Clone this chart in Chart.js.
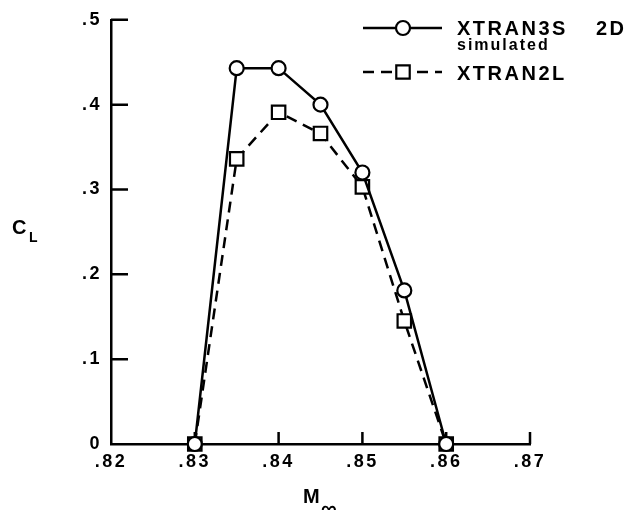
<!DOCTYPE html>
<html>
<head>
<meta charset="utf-8">
<script src="https://cdn.jsdelivr.net/npm/chart.js@4/dist/chart.umd.min.js"></script>
<style>
  html, body { margin: 0; padding: 0; background: #ffffff; }
  #wrap { width: 632px; height: 510px; }
</style>
</head>
<body>
<div id="wrap"><canvas id="c" width="632" height="510"></canvas></div>
<script>
// Free-stream Mach number and lift coefficient for the two codes
const machNumbers = [0.830, 0.835, 0.840, 0.845, 0.850, 0.855, 0.860];
const clXtran3s2d = [0, 0.443, 0.443, 0.400, 0.320, 0.181, 0];
const clXtran2l   = [0, 0.336, 0.391, 0.366, 0.303, 0.145, 0];

// Axis ticks and their printed labels
const xTickValues = [0.82, 0.83, 0.84, 0.85, 0.86, 0.87];
const xTickLabels = ['.82', '.83', '.84', '.85', '.86', '.87'];
const yTickValues = [0, 0.1, 0.2, 0.3, 0.4, 0.5];
const yTickLabels = ['0', '.1', '.2', '.3', '.4', '.5'];

const seriesNames = ['XTRAN3S 2D', 'simulated', 'XTRAN2L'];

const INK = '#000000';
const FONT = "'Liberation Sans', Arial, Helvetica, sans-serif";

function labelFor(values, labels, v) {
  const i = values.findIndex(t => Math.abs(t - v) < 1e-9);
  return i >= 0 ? labels[i] : '';
}

// Short tick marks drawn inward from both axes
const innerTicks = {
  id: 'innerTicks',
  beforeDatasetsDraw(chart) {
    const { ctx, chartArea, scales } = chart;
    ctx.save();
    ctx.strokeStyle = INK;
    ctx.lineWidth = 2.5;
    ctx.beginPath();
    yTickValues.slice(1).forEach(v => {
      const y = scales.y.getPixelForValue(v);
      ctx.moveTo(chartArea.left, y);
      ctx.lineTo(chartArea.left + 17, y);
    });
    xTickValues.slice(1).forEach(v => {
      const x = scales.x.getPixelForValue(v);
      ctx.moveTo(x, chartArea.bottom);
      ctx.lineTo(x, chartArea.bottom - 12);
    });
    ctx.stroke();
    ctx.restore();
  }
};

// Wider letter spacing for the typewriter-like lettering
const tracking = {
  id: 'tracking',
  beforeDraw(chart) { chart.ctx.letterSpacing = '2.5px'; },
  afterDraw(chart) { chart.ctx.letterSpacing = '0px'; }
};

// Axis titles with subscripts and the legend box in the upper right
const annotations = {
  id: 'annotations',
  afterDraw(chart) {
    const ctx = chart.ctx;
    const ds = chart.data.datasets;
    ctx.save();
    ctx.fillStyle = INK;
    ctx.textAlign = 'left';
    ctx.textBaseline = 'alphabetic';

    // y-axis title: C with subscript L
    ctx.letterSpacing = '0px';
    ctx.font = `bold 20px ${FONT}`;
    ctx.fillText('C', 12, 234);
    ctx.font = `bold 14px ${FONT}`;
    ctx.fillText('L', 29, 242);

    // x-axis title: M with subscript infinity
    ctx.font = `bold 20px ${FONT}`;
    ctx.fillText('M', 303, 503);
    ctx.font = `bold 22px ${FONT}`;
    ctx.fillText('\u221E', 321, 516);

    // legend entries
    const x0 = 363, x1 = 442, xm = 403;
    const rows = [
      { ds: ds[0], y: 28 },
      { ds: ds[1], y: 72 }
    ];
    rows.forEach(r => {
      ctx.save();
      ctx.strokeStyle = INK;
      ctx.lineWidth = r.ds.borderWidth;
      ctx.setLineDash(r.ds.borderDash || []);
      ctx.beginPath();
      ctx.moveTo(x0, r.y);
      ctx.lineTo(x1, r.y);
      ctx.stroke();
      ctx.restore();
      ctx.save();
      ctx.lineWidth = r.ds.pointBorderWidth;
      ctx.strokeStyle = INK;
      ctx.fillStyle = '#ffffff';
      Chart.helpers.drawPoint(ctx, {
        pointStyle: r.ds.pointStyle,
        radius: r.ds.pointRadius,
        rotation: 0,
        borderWidth: r.ds.pointBorderWidth
      }, xm, r.y);
      ctx.restore();
    });

    ctx.fillStyle = INK;
    ctx.font = `bold 20px ${FONT}`;
    ctx.letterSpacing = '2.5px';
    ctx.wordSpacing = '20px';
    ctx.fillText(seriesNames[0], 457, 35);
    ctx.wordSpacing = '0px';
    ctx.font = `bold 16px ${FONT}`;
    ctx.letterSpacing = '2px';
    ctx.fillText(seriesNames[1], 457, 50);
    ctx.font = `bold 20px ${FONT}`;
    ctx.letterSpacing = '2.5px';
    ctx.fillText(seriesNames[2], 457, 80);
    ctx.restore();
  }
};

new Chart(document.getElementById('c'), {
  type: 'line',
  data: {
    labels: machNumbers,
    datasets: [
      {
        label: seriesNames[0] + ' ' + seriesNames[1],
        data: machNumbers.map((m, i) => ({ x: m, y: clXtran3s2d[i] })),
        borderColor: INK,
        borderWidth: 2.5,
        pointStyle: 'circle',
        pointRadius: 7,
        pointBorderWidth: 2.2,
        pointBorderColor: INK,
        pointBackgroundColor: '#ffffff',
        tension: 0,
        clip: false
      },
      {
        label: seriesNames[2],
        data: machNumbers.map((m, i) => ({ x: m, y: clXtran2l[i] })),
        borderColor: INK,
        borderWidth: 2.5,
        borderDash: [11, 7],
        pointStyle: 'rect',
        pointRadius: 9.5,
        pointBorderWidth: 2.2,
        pointBorderColor: INK,
        pointBackgroundColor: '#ffffff',
        tension: 0,
        clip: false
      }
    ]
  },
  options: {
    responsive: false,
    animation: false,
    devicePixelRatio: 1,
    layout: { padding: { top: 17, right: 102, left: 0, bottom: 0 } },
    plugins: {
      legend: { display: false },
      tooltip: { enabled: false },
      title: { display: false }
    },
    scales: {
      x: {
        type: 'linear',
        min: 0.82,
        max: 0.87,
        afterBuildTicks(scale) { scale.ticks = xTickValues.map(v => ({ value: v })); },
        afterFit(scale) { scale.height = 66; },
        grid: { display: false, drawTicks: false },
        border: { display: true, color: INK, width: 2.5 },
        ticks: {
          color: INK,
          padding: 7,
          maxRotation: 0,
          autoSkip: false,
          font: { family: FONT, size: 18, weight: 'bold' },
          callback: v => labelFor(xTickValues, xTickLabels, v)
        }
      },
      y: {
        type: 'linear',
        min: 0,
        max: 0.5,
        afterBuildTicks(scale) { scale.ticks = yTickValues.map(v => ({ value: v })); },
        afterFit(scale) { scale.width = 111; },
        grid: { display: false, drawTicks: false },
        border: { display: true, color: INK, width: 2.5 },
        ticks: {
          color: INK,
          padding: 9,
          autoSkip: false,
          font: { family: FONT, size: 18, weight: 'bold' },
          callback: v => labelFor(yTickValues, yTickLabels, v)
        }
      }
    }
  },
  plugins: [tracking, innerTicks, annotations]
});
</script>
</body>
</html>
